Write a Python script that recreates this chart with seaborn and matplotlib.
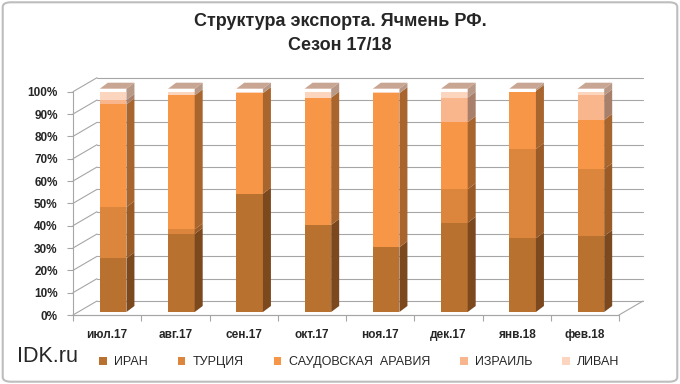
import numpy as np
import matplotlib
matplotlib.use('Agg')
import matplotlib.pyplot as plt
import seaborn as sns
from matplotlib.patches import Polygon, Patch, FancyBboxPatch
from matplotlib.lines import Line2D
from matplotlib.transforms import Affine2D, IdentityTransform

# данные (доли экспорта ячменя, %)
months = ['июл.17', 'авг.17', 'сен.17', 'окт.17', 'ноя.17', 'дек.17', 'янв.18', 'фев.18']
iran = [24, 35, 53, 39, 29, 40, 33, 34]
turkey = [23, 2, 0, 0, 0, 15, 40, 30]
saudi = [46, 60, 45, 57, 69, 30, 26, 22]
israel = [2, 0, 0, 0, 0, 11, 0, 11]
lebanon = [5, 3, 2, 4, 2, 4, 1, 3]
names = ['ИРАН', 'ТУРЦИЯ', 'САУДОВСКАЯ  АРАВИЯ', 'ИЗРАИЛЬ', 'ЛИВАН']
y_ticks = list(range(0, 101, 10))

front = ['#B9712F', '#DC853C', '#F79646', '#F9B58C', '#FCD5BE']
side = ['#7C491E', '#9A5B27', '#A8652E', '#A87F6A', '#B89886']
top_col = '#C9A693'
grid_col = '#A6A6A6'

sns.set_theme(style='white')
plt.rcParams['font.family'] = ['Liberation Sans', 'DejaVu Sans']

fig = plt.figure(figsize=(6.8, 3.84), dpi=100)
ax = fig.add_axes([73 / 680, 69 / 384, 546 / 680, 223.3 / 384])

series = [iran, turkey, saudi, israel, lebanon]
cum = np.cumsum(np.array(series, dtype=float), axis=0)
width = 0.39

# лицевые грани: рисуем накопленные суммы сверху вниз
for k in range(len(series) - 1, -1, -1):
    sns.barplot(x=months, y=cum[k], color=front[k], saturation=1, width=width,
                errorbar=None, ax=ax, linewidth=0, zorder=3)

ax.set_xlim(-0.5, 7.5)
ax.set_ylim(0, 100)

bar_off = (6, 3)      # смещение столбцов вглубь
bar_depth = (8, 6)    # глубина столбцов
wall = (24, 14)       # глубина пола/стенки

for p in ax.patches:
    p.set_transform(ax.transData + Affine2D().translate(*bar_off))


def pt(x, y, off=(0, 0)):
    d = ax.transData.transform((x, y))
    return (d[0] + off[0], d[1] + off[1])


def add_poly(pts, color, z):
    poly = Polygon(pts, closed=True, facecolor=color, edgecolor='none',
                   transform=IdentityTransform(), clip_on=False, zorder=z)
    ax.add_artist(poly)


def add_line(a, b, color=grid_col, lw=0.8, z=1):
    ln = Line2D([a[0], b[0]], [a[1], b[1]], color=color, lw=lw,
                transform=IdentityTransform(), clip_on=False, zorder=z)
    ax.add_artist(ln)


# боковые и верхние грани
for i in range(len(months)):
    xr = i + width / 2
    xl = i - width / 2
    bottom = 0.0
    for k in range(len(series)):
        t = cum[k][i]
        if t - bottom > 0:
            a = pt(xr, bottom, bar_off)
            b = pt(xr, t, bar_off)
            add_poly([a, b, (b[0] + bar_depth[0], b[1] + bar_depth[1]),
                      (a[0] + bar_depth[0], a[1] + bar_depth[1])], side[k], 3)
        bottom = t
    a = pt(xl, 100, bar_off)
    b = pt(xr, 100, bar_off)
    add_poly([a, b, (b[0] + bar_depth[0], b[1] + bar_depth[1]),
              (a[0] + bar_depth[0], a[1] + bar_depth[1])], top_col, 3)

# задняя стенка, левая стенка, пол
for v in y_ticks:
    add_line(pt(-0.5, v, wall), pt(7.5, v, wall))
    add_line(pt(-0.5, v), pt(-0.5, v, wall))
add_line(pt(7.5, 0), pt(7.5, 0, wall))
add_line(pt(-0.5, 0), pt(7.5, 0))

ax.grid(False)
for s in ['top', 'right']:
    ax.spines[s].set_visible(False)
ax.spines['left'].set_color(grid_col)
ax.spines['bottom'].set_color(grid_col)
ax.spines['left'].set_linewidth(0.8)
ax.spines['bottom'].set_linewidth(0.8)
ax.patch.set_alpha(0)

ax.set_yticks(y_ticks)
ax.set_yticklabels([f'{v}%' for v in y_ticks], fontsize=8.5, fontweight='bold')
ax.tick_params(axis='y', length=4, color=grid_col, width=0.8, pad=7, left=True)
ax.set_xticks(range(len(months)))
ax.set_xticklabels(months, fontsize=8.5, fontweight='bold')
ax.set_xticks(np.arange(-0.5, 8, 1), minor=True)
ax.tick_params(axis='x', which='major', length=0, pad=10)
ax.tick_params(axis='x', which='minor', length=4, color=grid_col, width=0.8, bottom=True)
ax.set_xlabel('')
ax.set_ylabel('')

fig.text(0.5, 1 - 22 / 384, 'Структура экспорта. Ячмень РФ.', ha='center', va='center',
         fontsize=13, fontweight='bold')
fig.text(0.5, 1 - 46 / 384, 'Сезон 17/18', ha='center', va='center',
         fontsize=13, fontweight='bold')
fig.text(17 / 680, 1 - 356 / 384, 'IDK.ru', ha='left', va='center', fontsize=15.5)

handles = [Patch(facecolor=c, edgecolor='none') for c in front]
fig.legend(handles, names, loc='center left', bbox_to_anchor=(94 / 680, 1 - 362 / 384),
           ncol=5, frameon=False, fontsize=9, handlelength=0.6, handleheight=0.6,
           handletextpad=0.6, columnspacing=2.4, borderaxespad=0)

fig.add_artist(FancyBboxPatch((0.004, 0.006), 0.992, 0.988,
                              boxstyle='round,pad=0,rounding_size=0.012',
                              transform=fig.transFigure, fill=False,
                              edgecolor='#BDBDBD', linewidth=1.5))

fig.savefig('out.png', dpi=100)
